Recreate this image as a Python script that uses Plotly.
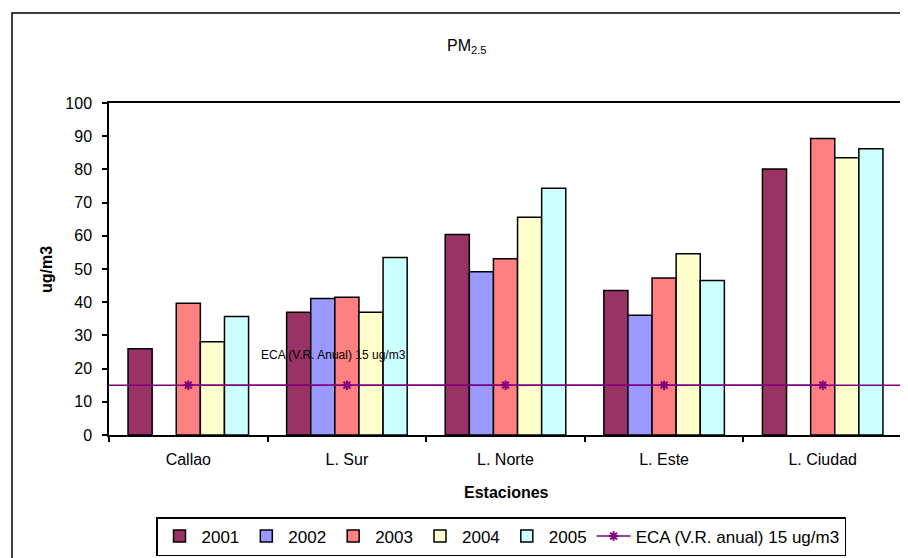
import plotly.graph_objects as go

categories = ["Callao", "L. Sur", "L. Norte", "L. Este", "L. Ciudad"]
years = ["2001", "2002", "2003", "2004", "2005"]
v2001 = [26.0, 37.0, 60.4, 43.5, 80.1]
v2002 = [None, 41.1, 49.2, 36.1, None]
v2003 = [39.7, 41.5, 53.1, 47.3, 89.3]
v2004 = [28.1, 37.0, 65.6, 54.6, 83.5]
v2005 = [35.7, 53.5, 74.3, 46.5, 86.2]
eca = [15, 15, 15, 15, 15]
eca_name = "ECA (V.R. anual) 15 ug/m3"
eca_label = "ECA (V.R. Anual) 15 ug/m3"

colors = ["#993366", "#9999FF", "#FF8080", "#FFFFCC", "#CCFFFF"]
series = [v2001, v2002, v2003, v2004, v2005]

FONT = "Liberation Sans, Arial, sans-serif"

fig = go.Figure()
for name, vals, col in zip(years, series, colors):
    fig.add_trace(go.Bar(
        x=categories, y=vals, name=name,
        marker=dict(color=col, line=dict(color="black", width=1.5)),
    ))

fig.add_trace(go.Scatter(
    x=categories, y=eca, name=eca_name, mode="lines+markers",
    line=dict(color="#800080", width=1.5),
    marker=dict(symbol="asterisk", size=8, color="#800080",
                line=dict(color="#800080", width=2)),
))

# page body has an 8px margin: figure drawn at (8, 8) in the window
W, H = 900, 550
fig.update_layout(
    width=W, height=H,
    margin=dict(l=101, r=6, t=95, b=123, autoexpand=False),
    paper_bgcolor="white", plot_bgcolor="white",
    barmode="group", bargap=0.24, bargroupgap=0,
    font=dict(family=FONT, color="black", size=16),
    showlegend=True,
    legend=dict(
        orientation="h", xref="container", yref="container",
        x=(156 - 8) / W, xanchor="left", y=1 - (517 - 8) / H, yanchor="top",
        bordercolor="black", borderwidth=1.5, bgcolor="white",
        font=dict(family=FONT, size=17, color="black"),
        itemwidth=34, tracegroupgap=0,
    ),
    xaxis=dict(
        type="category", showline=True, linecolor="black", linewidth=1.5,
        mirror=True, ticks="outside", ticklen=5, tickcolor="black",
        tickwidth=1.5, tickson="boundaries", showgrid=False,
        ticklabelstandoff=9,
        tickfont=dict(family=FONT, size=16, color="black"),
    ),
    yaxis=dict(
        range=[0, 100], dtick=10, showline=True, linecolor="black",
        linewidth=1.5, mirror=True, ticks="outside", ticklen=5,
        tickcolor="black", tickwidth=1.5, showgrid=False, zeroline=False,
        ticklabelstandoff=7,
        tickfont=dict(family=FONT, size=16, color="black"),
    ),
)

# ECA reference line across full plot width
fig.add_shape(type="line", xref="paper", yref="y", x0=0, x1=1, y0=eca[0], y1=eca[0],
              line=dict(color="#800080", width=1.5), layer="above")

# outer chart frame
fig.add_shape(type="rect", xref="paper", yref="paper",
              x0=-0.1223, x1=1.2, y0=-0.6, y1=1.271,
              line=dict(color="black", width=1.5), fillcolor="rgba(0,0,0,0)")

fig.add_annotation(text="PM<sub>2.5</sub>", xref="paper", yref="paper",
                   x=(467 - 109) / 793, y=(435 - 47) / 332, showarrow=False,
                   font=dict(family=FONT, size=16, color="black"),
                   xanchor="center", yanchor="middle")
fig.add_annotation(text="<b>ug/m3</b>", xref="paper", yref="paper",
                   x=(46 - 109) / 793, y=(435 - 269) / 332, showarrow=False,
                   textangle=-90, font=dict(family=FONT, size=16, color="black"),
                   xanchor="center", yanchor="middle")
fig.add_annotation(text="<b>Estaciones</b>", xref="paper", yref="paper",
                   x=(506 - 109) / 793, y=(435 - 492) / 332, showarrow=False,
                   font=dict(family=FONT, size=16, color="black"),
                   xanchor="center", yanchor="middle")
fig.add_annotation(text=eca_label, xref="paper", yref="y",
                   x=(333 - 109) / 793, y=24, showarrow=False,
                   font=dict(family=FONT, size=12, color="black"),
                   xanchor="center", yanchor="middle")

fig.write_html("out.html")
